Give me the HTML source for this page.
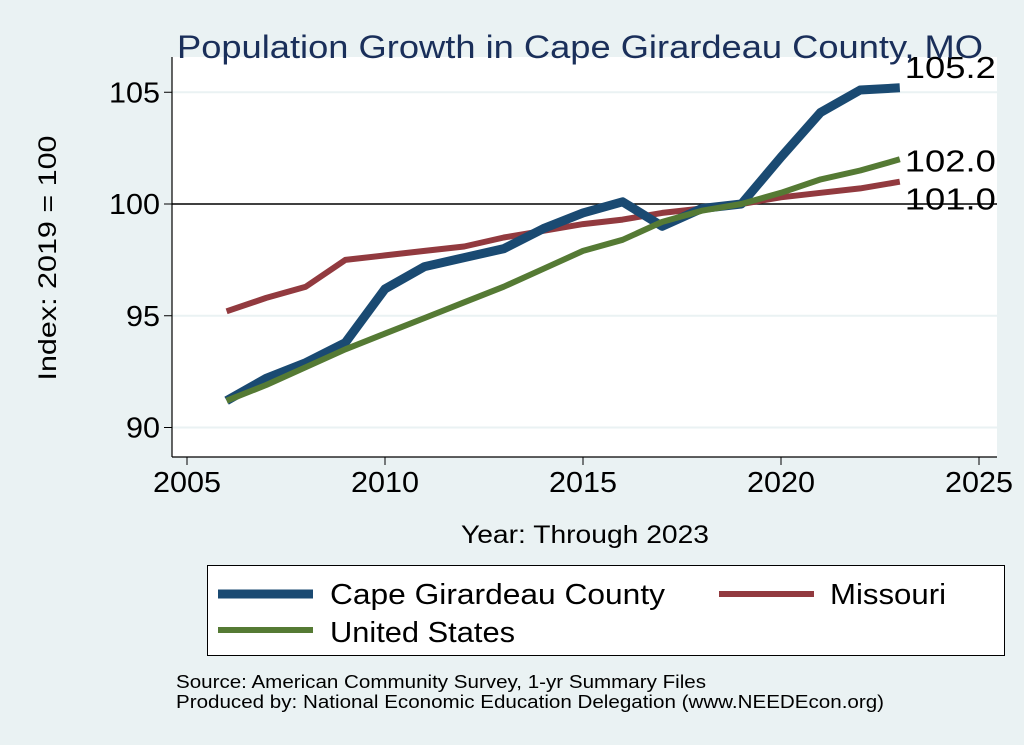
<!DOCTYPE html>
<html><head><meta charset="utf-8"><style>
html,body{margin:0;padding:0;background:#eaf2f3;}
svg{display:block;font-family:"Liberation Sans",sans-serif;}
</style></head><body>
<svg id="chart" width="1024" height="745" viewBox="0 0 1024 745">
<rect x="0" y="0" width="1024" height="745" fill="#eaf2f3"/>
<rect x="172" y="57" width="825" height="400" fill="#ffffff"/>
<g id="grid"></g>
<g id="yticks"></g>
<g id="xticks"></g>
<g id="series"></g>
<text x="580" y="58" font-size="32" fill="#1a2f5a" text-anchor="middle" textLength="806" lengthAdjust="spacingAndGlyphs">Population Growth in Cape Girardeau County, MO</text>
<text transform="translate(56,258) rotate(-90)" font-size="25" text-anchor="middle" textLength="245" lengthAdjust="spacingAndGlyphs">Index: 2019 = 100</text>
<text x="585" y="543" font-size="25" text-anchor="middle" textLength="248" lengthAdjust="spacingAndGlyphs">Year: Through 2023</text>
<g>
<rect x="207.5" y="565.5" width="797" height="90" fill="#ffffff" stroke="#000" stroke-width="1"/>
<line x1="218" y1="594" x2="313" y2="594" stroke="#1a4a72" stroke-width="9"/>
<text x="330" y="604" font-size="29" textLength="335" lengthAdjust="spacingAndGlyphs">Cape Girardeau  County</text>
<line x1="719" y1="594" x2="814" y2="594" stroke="#923a3f" stroke-width="6"/>
<text x="830" y="604" font-size="29" textLength="116" lengthAdjust="spacingAndGlyphs">Missouri</text>
<line x1="218" y1="630" x2="313" y2="630" stroke="#557a34" stroke-width="6"/>
<text x="330" y="642" font-size="29" textLength="185" lengthAdjust="spacingAndGlyphs">United States</text>
</g>
<text x="176" y="688" font-size="18" textLength="530" lengthAdjust="spacingAndGlyphs">Source: American Community Survey, 1-yr Summary Files</text>
<text x="176" y="708" font-size="18" textLength="708" lengthAdjust="spacingAndGlyphs">Produced by: National Economic Education Delegation (www.NEEDEcon.org)</text>
</svg>
<script>
const years=[2006,2007,2008,2009,2010,2011,2012,2013,2014,2015,2016,2017,2018,2019,2020,2021,2022,2023];
const capeValues=[91.2,92.2,92.9,93.8,96.2,97.2,97.6,98.0,98.9,99.6,100.1,99.0,99.8,100.0,102.1,104.1,105.1,105.2];
const missouriValues=[95.2,95.8,96.3,97.5,97.7,97.9,98.1,98.5,98.8,99.1,99.3,99.6,99.8,100.0,100.3,100.5,100.7,101.0];
const usValues=[91.2,91.9,92.7,93.5,94.2,94.9,95.6,96.3,97.1,97.9,98.4,99.2,99.7,100.0,100.5,101.1,101.5,102.0];
const yTicks=[90,95,100,105];
const xTicks=[2005,2010,2015,2020,2025];
const endLabels=["105.2","102.0","101.0"];

const NS="http://www.w3.org/2000/svg";
function xs(v){return 187+(v-2005)*39.6;}
function ys(v){return 204-(v-100)*22.35;}
function mk(tag,attrs,parent){const e=document.createElementNS(NS,tag);for(const k in attrs)e.setAttribute(k,attrs[k]);parent.appendChild(e);return e;}
const grid=document.getElementById('grid'),yt=document.getElementById('yticks'),xt=document.getElementById('xticks'),sg=document.getElementById('series');
yTicks.forEach(t=>{
  const y=ys(t);
  if(t!==100){const g=mk('line',{x1:172,x2:997,y1:y,y2:y,stroke:'#eaf2f3','stroke-width':2},grid);
  
  }
  const tk=mk('line',{x1:164,x2:172,y1:y,y2:y,stroke:'#000','stroke-width':1},yt);
  
  
  const tx=mk('text',{x:160,y:y+10,'font-size':29,'text-anchor':'end',textLength:(String(t).length*17),lengthAdjust:'spacingAndGlyphs'},yt);
  tx.textContent=t;
  
  
});
const ref=mk('line',{x1:172,x2:997,y1:ys(100),y2:ys(100),stroke:'#000','stroke-width':1.5},grid);


const ya=mk('line',{x1:172,x2:172,y1:57,y2:457,stroke:'#000','stroke-width':1.2},yt);


const xa=mk('line',{x1:172,x2:997,y1:457,y2:457,stroke:'#000','stroke-width':1.2},xt);


xTicks.forEach(t=>{
  const x=xs(t);
  const tk=mk('line',{x1:x,x2:x,y1:457,y2:465,stroke:'#000','stroke-width':1},xt);
  
  
  const tx=mk('text',{x:x,y:492,'font-size':29,'text-anchor':'middle',textLength:68,lengthAdjust:'spacingAndGlyphs'},xt);
  tx.textContent=t;
  
  
});
function pts(vals){return vals.map((v,i)=>xs(years[i]).toFixed(1)+','+ys(v).toFixed(1)).join(' ');}
const pm=mk('polyline',{points:pts(missouriValues),fill:'none',stroke:'#923a3f','stroke-width':6,'stroke-linejoin':'round'},sg);


const pc=mk('polyline',{points:pts(capeValues),fill:'none',stroke:'#1a4a72','stroke-width':9,'stroke-linejoin':'round'},sg);


const pu=mk('polyline',{points:pts(usValues),fill:'none',stroke:'#557a34','stroke-width':6,'stroke-linejoin':'round'},sg);


const last=years.length-1;
const lastVals=[capeValues[last],usValues[last],missouriValues[last]];
const offs=[-10,12,28];
lastVals.forEach((v,i)=>{
  const tx=mk('text',{x:xs(years[last])+5,y:ys(v)+offs[i],'font-size':31,textLength:91,lengthAdjust:'spacingAndGlyphs'},sg);
  tx.textContent=endLabels[i];
  
  
});
</script>
</body></html>
